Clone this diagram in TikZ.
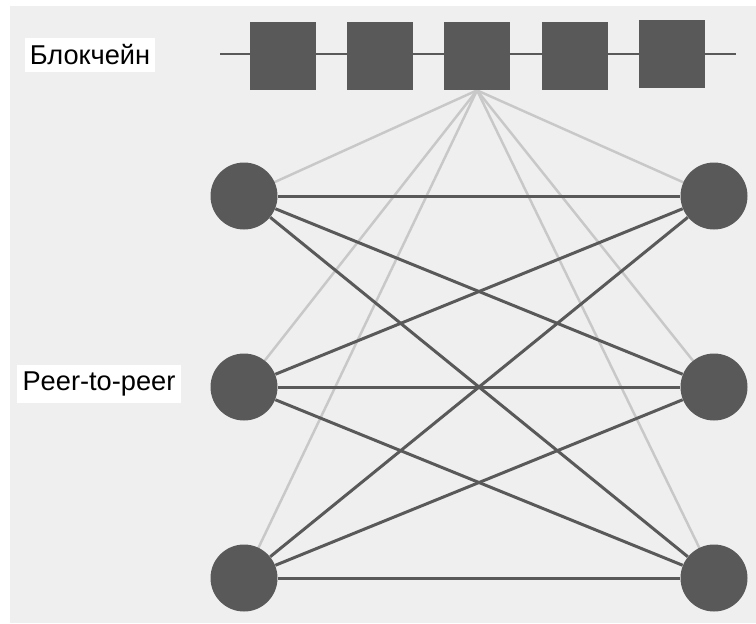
\documentclass[tikz,border=0pt]{standalone}
\usepackage{fontspec}
\setmainfont{Liberation Sans}
\usetikzlibrary{positioning,backgrounds}

\definecolor{panelgray}{RGB}{239,239,239}
\definecolor{darkgray}{RGB}{89,89,89}
\definecolor{lightline}{RGB}{200,200,200}

\begin{document}
\begin{tikzpicture}[
      x=0.02cm, y=-0.02cm,
      block/.style={rectangle, fill=darkgray, minimum width=1.32cm,
        minimum height=1.36cm, inner sep=0pt},
      peer/.style={circle, fill=darkgray, minimum size=1.34cm, inner sep=0pt},
      tag/.style={fill=white, font=\fontsize{15.5}{18}\selectfont,
        inner xsep=3pt, inner ysep=4pt},
      link/.style={darkgray, line width=1.7pt},
      ledger/.style={lightline, line width=1.4pt}
    ]

    \useasboundingbox (0,0) rectangle (756,623);
    \begin{scope}[on background layer]
      \fill[panelgray] (10,6) rectangle (756,623);
    \end{scope}

    % Chain of blocks
    \coordinate (chainL) at (220,54);
    \coordinate (chainR) at (736,54);
    \draw[link] (chainL) -- (chainR);
    \node[block] (b1) at (283,56) {};
    \node[block] (b2) at (380,56) {};
    \node[block] (b3) at (477,56) {};
    \node[block] (b4) at (575,56) {};
    \node[block] (b5) at (672,54) {};

    \node[tag] (chainlbl) at (90,55) {Блокчейн};

    % Network nodes
    \node[peer] (l1) at (244,196) {};
    \node[peer] (l2) at (244,387) {};
    \node[peer] (l3) at (244,578) {};
    \node[peer] (r1) at (714,196) {};
    \node[peer] (r2) at (714,387) {};
    \node[peer] (r3) at (714,578) {};

    \node[tag] (p2plbl) at (99,384) {Peer-to-peer};

    % Every node reads the ledger (kept under the nodes)
    \begin{scope}[on background layer]
      \foreach \n in {l1,l2,l3,r1,r2,r3}
        \draw[ledger] (b3.south) -- (\n.center);
    \end{scope}

    % Left side talks to right side
    \foreach \a in {l1,l2,l3}
      \foreach \b in {r1,r2,r3}
        \draw[link] (\a) -- (\b);
\end{tikzpicture}
\end{document}
